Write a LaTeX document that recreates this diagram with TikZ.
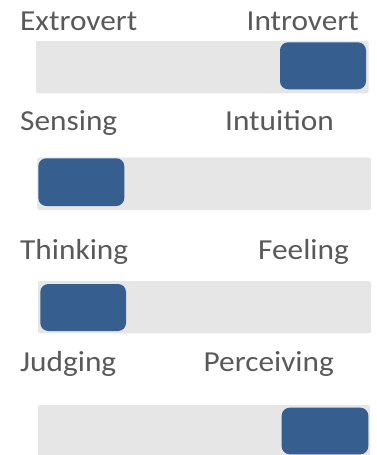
\documentclass[tikz,border=0pt]{standalone}
\usepackage{fontspec}
\setmainfont{Carlito}[FakeStretch=1.08]
\usepackage{tikz}
\definecolor{trackgray}{HTML}{E6E6E6}
\definecolor{knobblue}{HTML}{365F8F}
\definecolor{labelgray}{HTML}{595959}

\begin{document}
\begin{tikzpicture}[x=1pt,y=-1pt]
\tikzstyle{every node}+=[inner sep=0pt]
\tikzstyle{lbl}=[text=labelgray,font=\fontsize{29}{33}\selectfont]
\tikzstyle{track}=[fill=trackgray,rounded corners=2pt]
\tikzstyle{knob}=[fill=knobblue,rounded corners=8pt]
\useasboundingbox (0,0) rectangle (376,455);
% extrovert / introvert
\node [lbl,anchor=base west] (ext) at (20,30) {Extrovert};
\node [lbl,anchor=base east] (int) at (359,30) {Introvert};
\fill [track] (36,41) rectangle (368.7,93.3);
\fill [knob] (280,42.3) rectangle (366,89.3);
% sensing / intuition
\node [lbl,anchor=base west] (sen) at (20,130) {Sensing};
\node [lbl,anchor=base east] (itu) at (334,130) {Intuition};
\fill [track] (37.3,157.3) rectangle (371,210);
\fill [knob] (38.3,158.3) rectangle (124.3,206);
% thinking / feeling
\node [lbl,anchor=base west] (thi) at (20,259) {Thinking};
\node [lbl,anchor=base east] (fee) at (349,259) {Feeling};
\fill [track] (38,281) rectangle (371,333.3);
\fill [knob] (40.3,284) rectangle (126,331);
% judging / perceiving
\node [lbl,anchor=base west] (jud) at (20,371) {Judging};
\node [lbl,anchor=base east] (per) at (334,371) {Perceiving};
\fill [track] (38,405) rectangle (370,457);
\fill [knob] (281.7,407.7) rectangle (368.3,454.3);
\end{tikzpicture}
\end{document}
